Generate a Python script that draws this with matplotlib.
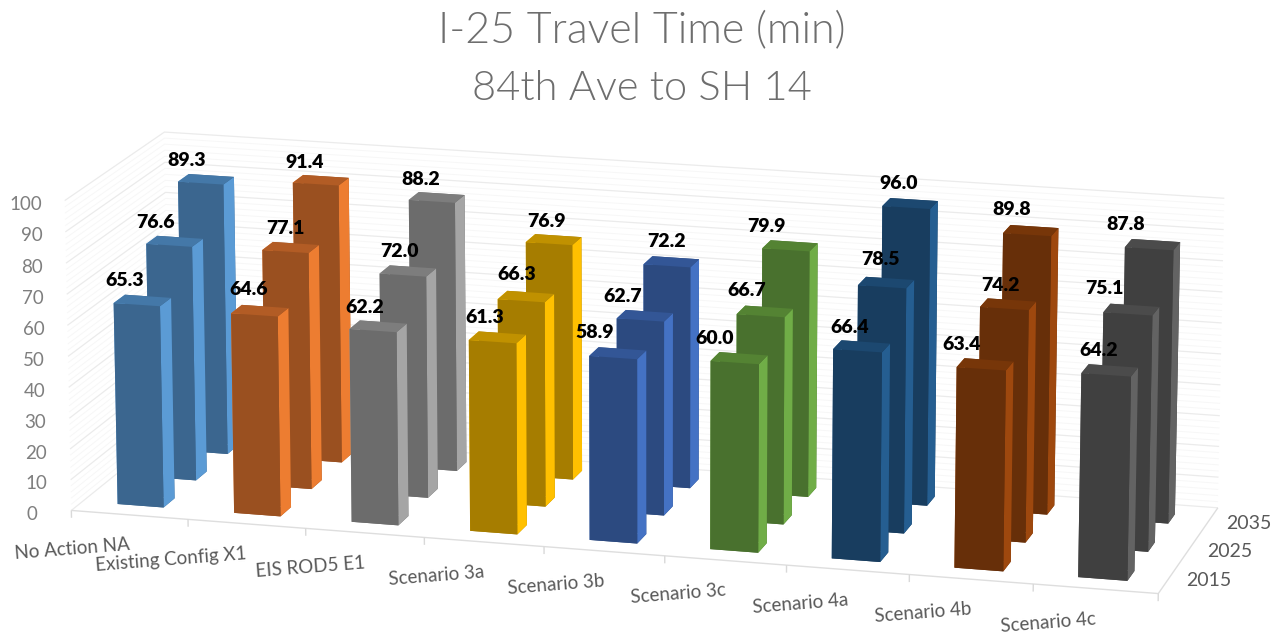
import numpy as np
import matplotlib
matplotlib.use('Agg')
import matplotlib.pyplot as plt
from mpl_toolkits.mplot3d import proj3d

categories = ['No Action NA','Existing Config X1','EIS ROD5 E1','Scenario 3a','Scenario 3b',
              'Scenario 3c','Scenario 4a','Scenario 4b','Scenario 4c']
series = ['2015','2025','2035']
values_2015 = [65.3,64.6,62.2,61.3,58.9,60.0,66.4,63.4,64.2]
values_2025 = [76.6,77.1,72.0,66.3,62.7,66.7,78.5,74.2,75.1]
values_2035 = [89.3,91.4,88.2,76.9,72.2,79.9,96.0,89.8,87.8]
z_ticks = [0,10,20,30,40,50,60,70,80,90,100]

side_colors = ['#5B9BD5','#ED7D31','#A5A5A5','#FFC000','#4472C4','#70AD47','#255E91','#9E480E','#636363']
front_colors= ['#3B668F','#9A5020','#6C6C6C','#A67D00','#2C4A80','#49712E','#183D5F','#672F09','#404040']
top_colors  = ['#4478A8','#B25C25','#7D7D7D','#C09100','#335696','#548333','#1C4870','#773609','#4B4B4B']

label_dx = [[-12,-6,-8,-8,-18,-20,-8,-20,-7],[-14,0,-3,-4,-18,-14,-2,-4,-23],[-14,-11,-11,-3,0,-19,-8,-15,-23]]
label_dy = [[24,25,23,24,25,24,23,24,24],[23,23,24,26,24,25,27,23,25],[23,22,22,22,24,23,24,25,24]]

plt.rcParams['font.family'] = ['Lato','DejaVu Sans']
W,H = 1285,635
fig = plt.figure(figsize=(W/100,H/100),dpi=100)
ax = fig.add_axes([0,0,1,1],projection='3d',computed_zorder=False)
ax.set_xlim(0,len(categories)); ax.set_ylim(0,len(series)); ax.set_zlim(0,100)
ax.view_init(14.976,-74.912,0.018)
ax.set_box_aspect((4,1.109,1.154))
ax.set_proj_type('persp',focal_length=1.162)
ax.set_axis_off()
S,CX,CY = 6280.1,644.87,355.16
vl = ax.viewLim
left = CX+S*vl.x0; top = CY-S*vl.y1
ax.set_position([left/W, 1-(top+S*vl.height)/H, S*vl.width/W, S*vl.height/H])
ax.patch.set_alpha(0)
GX,GY = 0.302,0.332
M = ax.get_proj()
nx,ny = len(categories),len(series)

def line(xs,ys,zs,c,lw,z=1):
    ax.plot(xs,ys,zs,color=c,lw=lw,zorder=z,solid_capstyle='butt',clip_on=False)
def anchor(x,y,z):
    px,py,_ = proj3d.proj_transform(x,y,z,M)
    return px,py

for v in range(0,101,2):
    if v%10:
        line([0,0,nx],[0,ny,ny],[v,v,v],'#F7F7F7',.7)
for v in z_ticks:
    line([0,0,nx],[0,ny,ny],[v,v,v],'#EBEBEB',.9,2)
line([0,nx,nx],[0,0,ny],[0,0,0],'#DEDEDE',1,3)
for i in range(nx+1):
    line([i,i],[0,0],[0,-2.4],'#D9D9D9',1,3)

table = [values_2015,values_2025,values_2035]
z=10
for j in reversed(range(ny)):
    for i in range(nx):
        ax.bar3d(i+GX,j+GY,0,1-2*GX,1-2*GY,table[j][i],
                 color=[front_colors[i],top_colors[i],front_colors[i],front_colors[i],side_colors[i],side_colors[i]],
                 shade=False,zorder=z,edgecolor='none',linewidth=0)
        z+=1

for j in range(ny):
    for i in range(nx):
        px,py = anchor(i+.5,j+GY,table[j][i])
        ax.annotate(f'{table[j][i]:.1f}',(px,py),xytext=(label_dx[j][i],label_dy[j][i]),textcoords='offset pixels',ha='center',va='center',
                    fontsize=14,fontweight=800,color='black',zorder=200,annotation_clip=False)
for v in z_ticks:
    px,py = anchor(0,0,v)
    ax.annotate(str(v),(px,py),xytext=(-34 if v==0 else -23,-4),textcoords='offset pixels',ha='right',va='center',
                fontsize=13.5,color='#7F7F7F',zorder=200,annotation_clip=False)
for i,c in enumerate(categories):
    px,py = anchor(i+.5,0,0)
    ax.annotate(c,(px,py),xytext=(0,-30),textcoords='offset pixels',ha='right',va='center',rotation=4.5,rotation_mode='anchor',
                fontsize=13.5,color='#595959',zorder=200,annotation_clip=False)
for j,s in enumerate(series):
    px,py = anchor(nx,j+.5,0)
    ax.annotate(s,(px,py),xytext=(18,-2),textcoords='offset pixels',ha='left',va='center',
                fontsize=14,color='#595959',zorder=200,annotation_clip=False)
fig.text(642/W,1-31/H,'I-25 Travel Time (min)',ha='center',va='center',fontsize=31,fontweight=300,color='#6E6E6E')
fig.text(642/W,1-88/H,'84th Ave to SH 14',ha='center',va='center',fontsize=30,fontweight=300,color='#6E6E6E')
fig.savefig('out.png',dpi=100)
